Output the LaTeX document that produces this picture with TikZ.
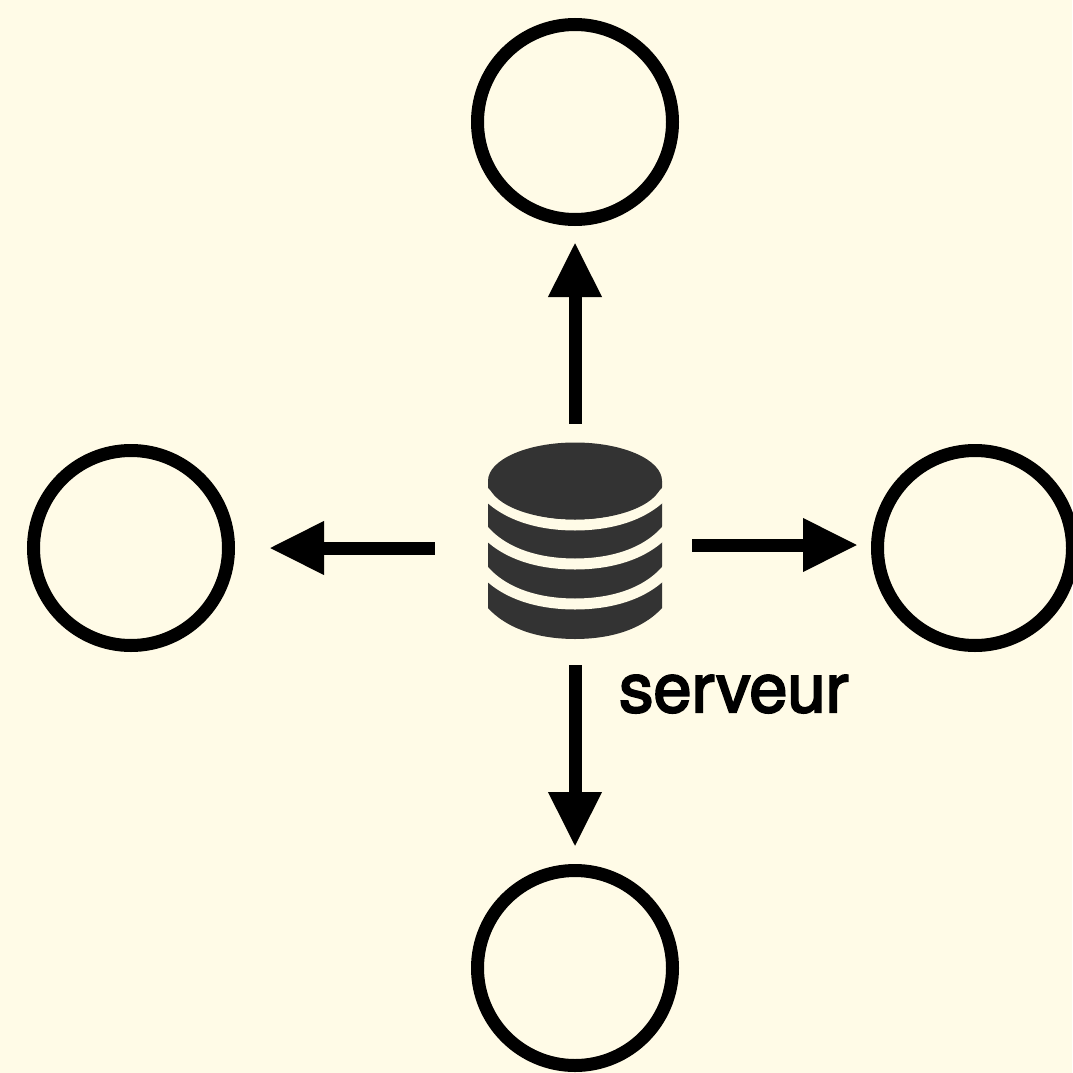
\documentclass[tikz,border=0pt]{standalone}
\usepackage{fontspec}
\newfontfamily\hostfont[FakeBold=3]{TeX Gyre Heros}
\usetikzlibrary{arrows.meta, positioning}

\definecolor{paper}{HTML}{FFFBE7}
\definecolor{dbgray}{HTML}{333333}

\begin{document}
\begin{tikzpicture}[
	x = 1pt,
	y = 1pt,
	on grid,
	> = {Triangle[length=55pt,width=50pt]},
	peer/.style = {circle, draw, line width=13pt, minimum size=195pt},
	link/.style = {->, line width=13pt},
	dbgap/.style = {draw=paper, line width=11pt},
	hostname/.style = {anchor=base west, inner sep=0pt, font=\fontsize{68.5pt}{70pt}\hostfont}
	]
	\useasboundingbox (0,0) rectangle (1072,-1073);
	\fill[paper] (0,0) rectangle (1072,-1073);
	\node[minimum width=174pt, minimum height=198pt, inner sep=0pt] (srv) at (575,-541) {};
	\node[peer] (top) [above=419pt of srv] {};
	\node[peer] (bottom) [below=427pt of srv] {};
	\node[peer] (left) [left=444pt of srv, yshift=-7pt] {};
	\node[peer] (right) [right=400pt of srv, yshift=-7pt] {};
	\node[hostname] (srvname) at (619,-712) {serveur};
	% database icon
	\begin{scope}[shift={(srv.center)}]
		\fill[dbgray] (-87,60) -- (-87,-67) .. controls (-65,-91) and (-30,-98) .. (0,-98)
			.. controls (30,-98) and (65,-91) .. (87,-67) -- (87,60) -- cycle;
		\foreach \dy in {0,-39,-79}
			\draw[dbgap, yshift=\dy] (-100,59) -- (-88,46) .. controls (-65,23) and (-30,16) .. (0,16)
				.. controls (30,16) and (65,23) .. (88,46) -- (100,59);
		\fill[dbgray] (0,60) ellipse (87 and 38.5);
	\end{scope}
	\draw[link, shorten <=18pt, shorten >=16pt] (srv.north) -- (top);
	\draw[link, shorten <=25pt, shorten >=17pt] (srv.south) -- (bottom);
	\draw[link, shorten <=53pt, shorten >=34pt] (srv.west |- left) -- (left);
	\draw[link, shorten <=30pt, shorten >=13pt] ([yshift=-4pt]srv.east) -- ([yshift=-4pt]srv.east -| right.west);
\end{tikzpicture}
\end{document}
